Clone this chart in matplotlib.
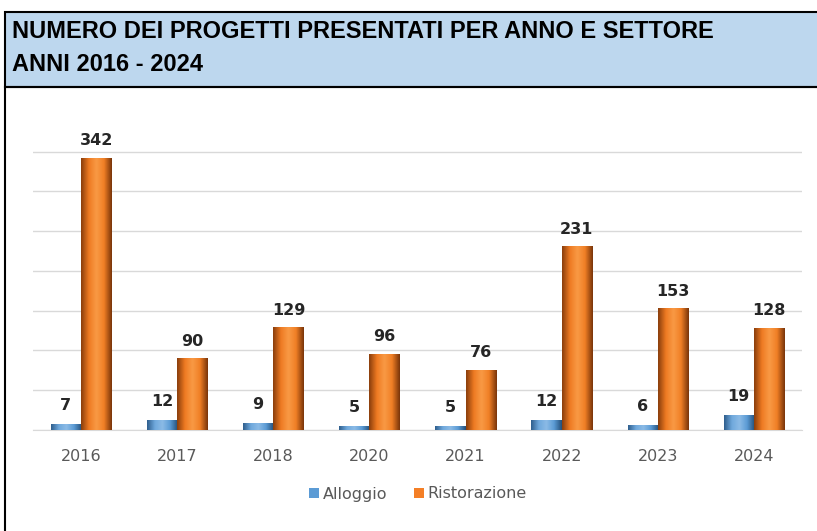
import matplotlib
matplotlib.use("Agg")
import matplotlib.pyplot as plt
from matplotlib.patches import Rectangle
from matplotlib.colors import LinearSegmentedColormap
import numpy as np

years = ["2016", "2017", "2018", "2020", "2021", "2022", "2023", "2024"]
alloggio = [7, 12, 9, 5, 5, 12, 6, 19]
ristorazione = [342, 90, 129, 96, 76, 231, 153, 128]
title_lines = ["NUMERO DEI PROGETTI PRESENTATI PER ANNO E SETTORE", "ANNI 2016 - 2024"]

W, H = 817, 531
fig = plt.figure(figsize=(W/100, H/100), dpi=100)
fig.patch.set_facecolor("white")

tfont = ["Liberation Sans", "DejaVu Sans"]
fig.patches.append(Rectangle((5/W, (H-87)/H), 1, 75/H, transform=fig.transFigure,
                             facecolor="#BDD7EE", edgecolor="black", lw=1.5, zorder=0))
fig.patches.append(Rectangle((5/W, -0.1), 1, (H-87)/H + 0.1, transform=fig.transFigure,
                             facecolor="none", edgecolor="black", lw=1.5, zorder=0))
fig.text(12/W, (H-32)/H, title_lines[0], family=tfont, fontweight="bold", fontsize=17, va="center", ha="left")
fig.text(12/W, (H-65)/H, title_lines[1], family=tfont, fontweight="bold", fontsize=17, va="center", ha="left")

ymax = 360
base_px = 430
top_px = base_px - ymax * (272/342)
ax = fig.add_axes([33/W, (H-base_px)/H, (802-33)/W, (base_px-top_px)/H])

x = np.arange(len(years))
bw = 0.315
b1 = ax.bar(x - bw/2, alloggio, bw, color="#5B9BD5", edgecolor="none", label="Alloggio", zorder=3)
b2 = ax.bar(x + bw/2, ristorazione, bw, color="#F47F26", edgecolor="none", label="Ristorazione", zorder=3)

cm_blue = LinearSegmentedColormap.from_list("b", ["#2F5F8E", "#6FA8DC", "#8CBBE6", "#5B9BD5", "#24507A"])
cm_orng = LinearSegmentedColormap.from_list("o", ["#8A3E0C", "#EE7A22", "#F99A45", "#F07F25", "#7A350A"])
grad = np.linspace(0, 1, 64).reshape(1, -1)
for bars, cm in ((b1, cm_blue), (b2, cm_orng)):
    for r in bars:
        x0, w, h = r.get_x(), r.get_width(), r.get_height()
        im = ax.imshow(grad, cmap=cm, aspect="auto", extent=(x0, x0 + w, 0, h), zorder=4,
                       interpolation="bicubic")
        im.set_clip_path(r)
ax.set_xlim(-0.5, len(years)-0.5)
ax.set_ylim(0, ymax)

for xi, v in zip(x - bw/2, alloggio):
    ax.annotate(str(v), (xi, v), xytext=(0, 8), textcoords="offset points", ha="center", va="bottom",
                fontsize=11.5, fontweight="bold", color="#262626")
for xi, v in zip(x + bw/2, ristorazione):
    ax.annotate(str(v), (xi, v), xytext=(0, 7), textcoords="offset points", ha="center", va="bottom",
                fontsize=11.5, fontweight="bold", color="#262626")

ax.set_yticks(np.arange(0, 351, 50))
ax.yaxis.grid(True, color="#D9D9D9", lw=1, zorder=0)
ax.tick_params(axis="y", left=False, labelleft=False)
ax.set_xticks(x)
ax.set_xticklabels(years, fontsize=11.5, color="#595959")
ax.tick_params(axis="x", length=0, pad=14)
for s in ["top", "right", "left"]:
    ax.spines[s].set_visible(False)
ax.spines["bottom"].set_color("#D9D9D9")

leg = fig.legend(handles=[b1, b2], labels=["Alloggio", "Ristorazione"], loc="center",
                 bbox_to_anchor=(418/W, (H-494)/H), ncol=2, frameon=False, fontsize=11.5,
                 handlelength=0.6, handleheight=0.6, handletextpad=0.25, columnspacing=1.7)
for t in leg.get_texts():
    t.set_color("#595959")

fig.savefig("out.png", dpi=100)
